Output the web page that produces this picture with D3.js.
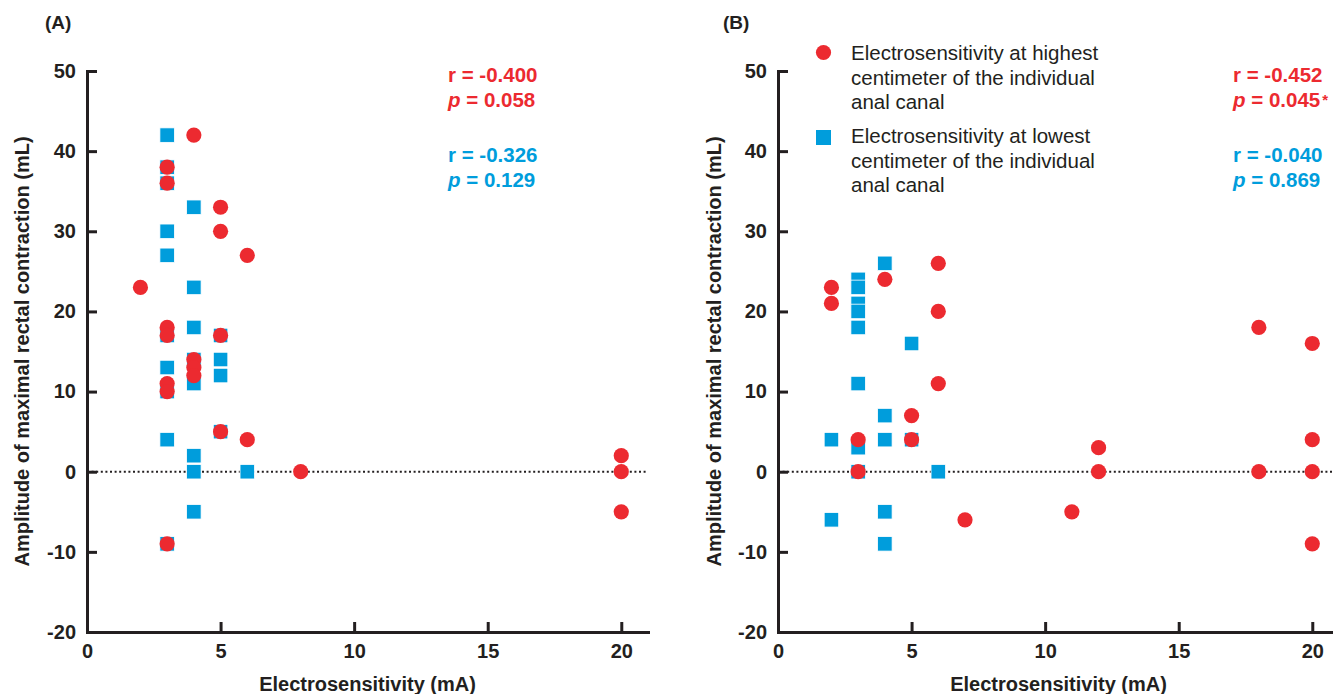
<!DOCTYPE html>
<html><head><meta charset="utf-8">
<script src="https://cdn.jsdelivr.net/npm/d3@7"></script>
<style>body{margin:0;background:#fff} text{font-family:"Liberation Sans",Arial,Helvetica,sans-serif}</style>
</head><body><svg id="c" width="1333" height="694"></svg>
<script>
// ---- data ----
const xTicks = [0, 5, 10, 15, 20];
const yTicks = [-20, -10, 0, 10, 20, 30, 40, 50];
const xTitle = "Electrosensitivity (mA)";
const yTitle = "Amplitude of maximal rectal contraction (mL)";

// Panel A
const aHighX = [2, 3, 3, 3, 3, 3, 3, 3, 4, 4, 4, 4, 5, 5, 5, 5, 6, 6, 8, 20, 20, 20];
const aHighY = [23, 38, 36, 18, 17, 11, 10, -9, 42, 14, 13, 12, 33, 30, 17, 5, 27, 4, 0, 2, 0, -5];
const aLowX = [3, 3, 3, 3, 3, 3, 3, 3, 3, 3, 4, 4, 4, 4, 4, 4, 4, 4, 5, 5, 5, 5, 6];
const aLowY = [42, 38, 36, 30, 27, 17, 13, 10, 4, -9, 33, 23, 18, 14, 11, 2, 0, -5, 17, 14, 12, 5, 0];
const aStatsHigh = ["r = -0.400", "0.058"];
const aStatsLow = ["r = -0.326", "0.129"];

// Panel B
const bHighX = [2, 2, 3, 3, 4, 5, 5, 6, 6, 6, 7, 11, 12, 12, 18, 18, 20, 20, 20, 20];
const bHighY = [23, 21, 4, 0, 24, 7, 4, 26, 20, 11, -6, -5, 3, 0, 18, 0, 16, 4, 0, -9];
const bLowX = [2, 2, 3, 3, 3, 3, 3, 3, 3, 3, 4, 4, 4, 4, 4, 5, 5, 6];
const bLowY = [4, -6, 24, 23, 21, 20, 18, 11, 3, 0, 26, 7, 4, -5, -9, 16, 4, 0];
const bStatsHigh = ["r = -0.452", "0.045", "*"];
const bStatsLow = ["r = -0.040", "0.869"];

const legendHigh = ["Electrosensitivity at highest", "centimeter of the individual", "anal canal"];
const legendLow = ["Electrosensitivity at lowest", "centimeter of the individual", "anal canal"];

// ---- drawing ----
const RED = "#ec2a30", BLUE = "#009ddc", INK = "#231f20";
const svg = d3.select("#c");
const y = d3.scaleLinear().domain([-20, 50]).range([632, 71]);
const fmt = d => String(d); // plain hyphen for negatives

function panel(opt) {
  const x = d3.scaleLinear().domain([0, 21]).range([opt.x0, opt.x0 + 561]);
  const g = svg.append("g");

  // zero dotted line
  g.append("line").attr("x1", x(0)).attr("x2", x(21)).attr("y1", y(0)).attr("y2", y(0))
    .attr("stroke", INK).attr("stroke-width", 2).attr("stroke-dasharray", "2,2.6");

  const ax = g.append("g").attr("transform", `translate(0,${y(-20)})`)
    .call(d3.axisBottom(x).tickValues(xTicks).tickFormat(fmt).tickSizeInner(-10).tickSizeOuter(0).tickPadding(12));
  const ay = g.append("g").attr("transform", `translate(${x(0)},0)`)
    .call(d3.axisLeft(y).tickValues(yTicks).tickFormat(fmt).tickSizeInner(-10).tickSizeOuter(0).tickPadding(11));
  [ax, ay].forEach(a => {
    a.select(".domain").attr("stroke", INK).attr("stroke-width", 3).attr("stroke-linecap", "square");
    a.selectAll(".tick line").attr("stroke", INK).attr("stroke-width", 3);
    a.selectAll(".tick text").attr("fill", INK).attr("font-size", 20).attr("font-weight", "bold")
      .style("font-family", '"Liberation Sans",Arial,sans-serif');
  });

  // titles
  g.append("text").attr("x", (x(0) + x(21)) / 2).attr("y", 691).attr("text-anchor", "middle")
    .attr("font-size", 20).attr("font-weight", "bold").attr("fill", INK).text(xTitle);
  g.append("text").attr("transform", `translate(${opt.yt},${(y(50) + y(-20)) / 2}) rotate(-90)`)
    .attr("text-anchor", "middle").attr("font-size", 20).attr("font-weight", "bold").attr("fill", INK).text(yTitle);
  g.append("text").attr("x", opt.lx).attr("y", 29).attr("font-size", 19).attr("font-weight", "bold")
    .attr("fill", INK).text(opt.label);

  // squares (lowest) then circles (highest)
  const low = opt.lowX.map((v, i) => [v, opt.lowY[i]]);
  const high = opt.highX.map((v, i) => [v, opt.highY[i]]);
  g.selectAll("rect.pt").data(low).join("rect").attr("class", "pt")
    .attr("x", d => x(d[0]) - 7.25).attr("y", d => y(d[1]) - 7.25)
    .attr("width", 14.5).attr("height", 14.5).attr("fill", BLUE)
    .attr("stroke", "#fff").attr("stroke-width", 0.8);
  g.selectAll("circle.pt").data(high).join("circle").attr("class", "pt")
    .attr("cx", d => x(d[0])).attr("cy", d => y(d[1])).attr("r", 7.6).attr("fill", RED);

  // stats
  const st = (arr, yy, col) => {
    g.append("text").attr("x", opt.sx).attr("y", yy).attr("font-size", 20.5)
      .attr("font-weight", "bold").attr("fill", col).text(arr[0]);
    const t2 = g.append("text").attr("x", opt.sx).attr("y", yy + 25).attr("font-size", 20.5)
      .attr("font-weight", "bold").attr("fill", col);
    t2.append("tspan").attr("font-style", "italic").text("p");
    t2.append("tspan").text(" = " + arr[1]);
    if (arr[2]) t2.append("tspan").attr("dx", 2).attr("font-size", 15).attr("dy", -2).text(arr[2]);
  };
  st(opt.sHigh, 82, RED);
  st(opt.sLow, 162, BLUE);
}

panel({x0: 87, yt: 29, lx: 45, label: "(A)", sx: 448,
  highX: aHighX, highY: aHighY, lowX: aLowX, lowY: aLowY, sHigh: aStatsHigh, sLow: aStatsLow});
panel({x0: 778, yt: 721, lx: 723, label: "(B)", sx: 1233,
  highX: bHighX, highY: bHighY, lowX: bLowX, lowY: bLowY, sHigh: bStatsHigh, sLow: bStatsLow});

// legend (panel B)
const lg = svg.append("g");
lg.append("circle").attr("cx", 823.5).attr("cy", 52.5).attr("r", 7.6).attr("fill", RED);
lg.append("rect").attr("x", 816).attr("y", 130).attr("width", 15).attr("height", 15).attr("fill", BLUE);
[[legendHigh, 60], [legendLow, 143]].forEach(([lines, y0]) => {
  lines.forEach((s, i) => {
    lg.append("text").attr("x", 851).attr("y", y0 + i * 24.5).attr("font-size", 20.5)
      .attr("fill", INK).text(s);
  });
});
</script></body></html>
